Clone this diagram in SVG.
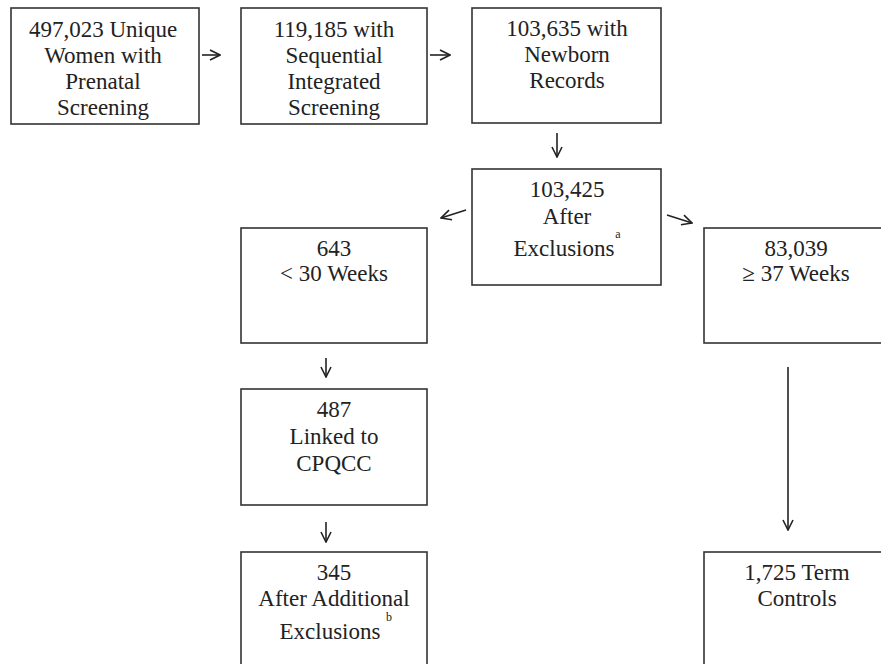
<svg xmlns="http://www.w3.org/2000/svg" width="881" height="664" viewBox="0 0 881 664">
<defs>
<marker id="ah" viewBox="0 0 12 12" refX="11" refY="6" markerWidth="12" markerHeight="12" markerUnits="userSpaceOnUse" orient="auto">
<path d="M1,1 L11,6 L1,11" fill="none" stroke="#222" stroke-width="1.6"/>
</marker>
<style>
rect{fill:#fff;stroke:#333;stroke-width:1.6}
text{font-family:'Liberation Serif','DejaVu Serif','Times New Roman',serif;font-size:23px;fill:#222;text-anchor:middle}
.sup{font-size:12px}
.c line{stroke:#222;stroke-width:1.6;marker-end:url(#ah)}
</style>
</defs>
<rect x="0" y="0" width="881" height="664" style="stroke:none"/>
<g id="n1"><rect x="11" y="8" width="188" height="116"/>
<text x="103" y="37">497,023 Unique</text><text x="103" y="63">Women with</text><text x="103" y="89">Prenatal</text><text x="103" y="115">Screening</text></g>
<g id="n2"><rect x="241" y="8" width="186" height="116"/>
<text x="334" y="37">119,185 with</text><text x="334" y="63">Sequential</text><text x="334" y="89">Integrated</text><text x="334" y="115">Screening</text></g>
<g id="n3"><rect x="472" y="8" width="189" height="115"/>
<text x="567" y="36">103,635 with</text><text x="567" y="62">Newborn</text><text x="567" y="88">Records</text></g>
<g id="n4"><rect x="472" y="169" width="189" height="116"/>
<text x="567" y="197">103,425</text><text x="567" y="224">After</text><text x="564" y="256">Exclusions</text><text class="sup" x="618" y="238">a</text></g>
<g id="n5"><rect x="241" y="228" width="186" height="115"/>
<text x="334" y="256">643</text><text x="334" y="281">&lt; 30 Weeks</text></g>
<g id="n6"><rect x="704" y="228" width="190" height="115"/>
<text x="796" y="256">83,039</text><text x="796" y="281">≥ 37 Weeks</text></g>
<g id="n7"><rect x="241" y="389" width="186" height="116"/>
<text x="334" y="417">487</text><text x="334" y="444">Linked to</text><text x="334" y="471">CPQCC</text></g>
<g id="n8"><rect x="241" y="552" width="186" height="130"/>
<text x="334" y="580">345</text><text x="334" y="606">After Additional</text><text x="330" y="639">Exclusions</text><text class="sup" x="389" y="621">b</text></g>
<g id="n9"><rect x="704" y="552" width="190" height="130"/>
<text x="797" y="580">1,725 Term</text><text x="797" y="606">Controls</text></g>
<g class="c" id="connectors">
<line x1="202" y1="55" x2="220" y2="55"/>
<line x1="430" y1="55" x2="450" y2="55"/>
<line x1="557" y1="133" x2="557" y2="157"/>
<line x1="466" y1="210" x2="441" y2="218"/>
<line x1="667" y1="215" x2="692" y2="223"/>
<line x1="326" y1="358" x2="326" y2="377"/>
<line x1="326" y1="522" x2="326" y2="542"/>
<line x1="788" y1="367" x2="788" y2="530"/>
</g>
</svg>
